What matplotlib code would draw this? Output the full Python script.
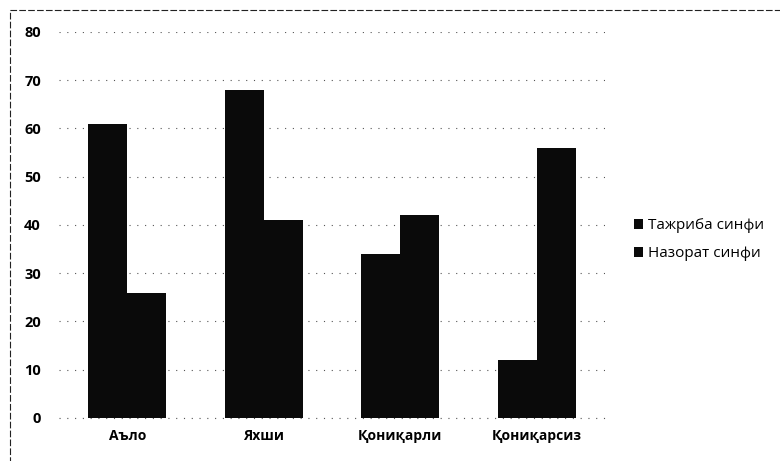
import numpy as np
import matplotlib.pyplot as plt
from matplotlib.patches import Rectangle

# Chart data
categories = ['Аъло', 'Яхши', 'Қониқарли', 'Қониқарсиз']
tajriba = [61, 68, 34, 12]
nazorat = [26, 41, 42, 56]
series_names = ['Тажриба синфи', 'Назорат синфи']
yticks = [0, 10, 20, 30, 40, 50, 60, 70, 80]

plt.rcParams['font.family'] = ['Open Sans', 'DejaVu Sans']

fig = plt.figure(figsize=(7.8, 4.61), dpi=100)
ax = fig.add_axes([0.0756, 0.0933, 0.7004, 0.8373])

x = np.arange(len(categories))
w = 0.285
b1 = ax.bar(x - w / 2, tajriba, w, color='#0a0a0a', label=series_names[0], zorder=3)
b2 = ax.bar(x + w / 2, nazorat, w, color='#0a0a0a', label=series_names[1], zorder=3)

ax.set_xlim(-0.5, len(categories) - 0.5)
ax.set_ylim(0, 80)
ax.set_yticks(yticks)
ax.set_xticks(x)
ax.set_xticklabels(categories, fontsize=10, fontweight='bold')
ax.tick_params(axis='y', labelsize=10.5, length=0, pad=13)
ax.tick_params(axis='x', length=0, pad=8)
for lab in ax.get_yticklabels():
    lab.set_fontweight('bold')

ax.yaxis.grid(True, color='#555555', linestyle=(0, (1, 6)), linewidth=0.8, zorder=0)
for s in ax.spines.values():
    s.set_visible(False)
ax.axhline(0, color='#555555', linestyle=(0, (1, 6)), linewidth=0.8, zorder=0, clip_on=False)

# chart area frame (partly visible in the scan)
frame = Rectangle((0.013, -0.05), 1.2, 1.028, transform=fig.transFigure, fill=False,
                  edgecolor='#222222', linewidth=0.8, linestyle=(0, (6, 2)))
fig.patches.append(frame)

leg = fig.legend(handles=[b1, b2], loc='upper left', bbox_to_anchor=(0.805, 0.54),
                 frameon=False, fontsize=11, handlelength=0.6, handleheight=0.6,
                 handletextpad=0.3, labelspacing=0.85, borderaxespad=0)

fig.savefig('out.png', dpi=100)
